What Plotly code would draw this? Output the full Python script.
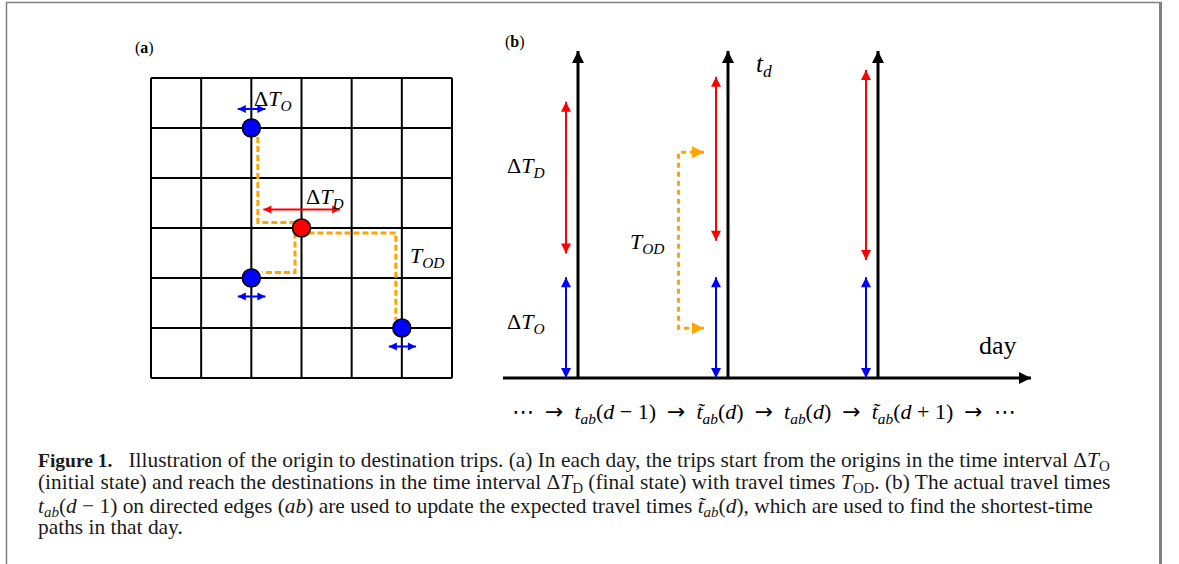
import plotly.graph_objects as go

W, H = 1179, 564

# ---- panel (a): 6x6 street grid, origins / destination / trips ----
grid_ticks = [0, 1, 2, 3, 4, 5, 6]
origin_x = [2, 2, 5]
origin_y = [5, 2, 1]
dest_x = [3]
dest_y = [3]

trip1_x = [2.13, 2.13, 2.90]
trip1_y = [4.82, 3.11, 3.11]
trip2_x = [2.87, 2.87, 2.22]
trip2_y = [2.91, 2.11, 2.11]
trip3_x = [3.14, 4.88, 4.88]
trip3_y = [2.90, 2.90, 1.16]

dto_a_left = [1.73, 1.73, 4.74]
dto_a_right = [2.28, 2.28, 5.28]
dto_a_y = [5.38, 1.63, 0.63]
dtd_a_left = [2.24]
dtd_a_right = [3.77]
dtd_a_y = [3.37]

# ---- panel (b): time within day vs. day ----
days = [1, 2, 3]
t_top = 10
day_axis = [0.5, 4.02]
dtd_lo = [3.81, 4.20, 3.61]
dtd_hi = [8.45, 9.21, 9.42]
dto_lo = [0, 0, 0]
dto_hi = [3.08, 3.08, 3.08]
tod_x = [1.84, 1.67, 1.67, 1.84]
tod_y = [6.90, 6.90, 1.52, 1.52]

SERIF = "Liberation Serif"
BLUE, RED, ORANGE = "#0000ff", "#ff0000", "#ffa500"


def domain(p_lo, p_hi, lo, hi, rng, size, flip=False):
    # pixel position of the two range ends -> axis domain
    f = lambda v: p_lo + (v - lo) * (p_hi - p_lo) / (hi - lo)
    a, b = f(rng[0]), f(rng[1])
    if flip:
        return [1 - a / size, 1 - b / size]
    return [a / size, b / size]


fig = go.Figure()


def line(x, y, color, width, ax, dash="solid"):
    fig.add_trace(go.Scatter(x=x, y=y, mode="lines", xaxis="x" + ax, yaxis="y" + ax,
                             line=dict(color=color, width=width, dash=dash),
                             hoverinfo="skip"))


def heads(x, y, symbol, color, size, ax):
    fig.add_trace(go.Scatter(x=x, y=y, mode="markers", xaxis="x" + ax, yaxis="y" + ax,
                             marker=dict(symbol=symbol, color=color, size=size),
                             hoverinfo="skip", cliponaxis=False))


# grid
gx, gy = [], []
for g in grid_ticks:
    gx += [g, g, None, grid_ticks[0], grid_ticks[-1], None]
    gy += [grid_ticks[0], grid_ticks[-1], None, g, g, None]
line(gx, gy, "black", 2, "")

# trips
for tx, ty in [(trip1_x, trip1_y), (trip2_x, trip2_y), (trip3_x, trip3_y)]:
    line(tx, ty, ORANGE, 3, "", dash="6px,3px")

# time windows in (a)
for x0, x1, y in zip(dto_a_left, dto_a_right, dto_a_y):
    line([x0, x1], [y, y], BLUE, 2, "")
heads(dto_a_right, dto_a_y, "arrow-right", BLUE, 8, "")
heads(dto_a_left, dto_a_y, "arrow-left", BLUE, 8, "")
for x0, x1, y in zip(dtd_a_left, dtd_a_right, dtd_a_y):
    line([x0, x1], [y, y], RED, 2, "")
heads(dtd_a_right, dtd_a_y, "arrow-right", RED, 8, "")
heads(dtd_a_left, dtd_a_y, "arrow-left", RED, 8, "")

fig.add_trace(go.Scatter(x=origin_x, y=origin_y, mode="markers", hoverinfo="skip",
                         marker=dict(size=18, color=BLUE, line=dict(color="black", width=1.5)),
                         cliponaxis=False))
fig.add_trace(go.Scatter(x=dest_x, y=dest_y, mode="markers", hoverinfo="skip",
                         marker=dict(size=18, color=RED, line=dict(color="black", width=1.5)),
                         cliponaxis=False))

# panel (b) axes
line(day_axis, [0, 0], "black", 3, "2")
heads([day_axis[1]], [0], "arrow-right", "black", 12, "2")
for d in days:
    line([d, d], [0, t_top], "black", 3, "2")
heads(days, [t_top] * len(days), "arrow-up", "black", 12, "2")

off = -0.08
wx = [d + off for d in days]
for x, lo, hi in zip(wx, dtd_lo, dtd_hi):
    line([x, x], [lo, hi], RED, 2, "2")
heads(wx, dtd_hi, "arrow-up", RED, 10, "2")
heads(wx, dtd_lo, "arrow-down", RED, 10, "2")
for x, lo, hi in zip(wx, dto_lo, dto_hi):
    line([x, x], [lo, hi], BLUE, 2, "2")
heads(wx, dto_hi, "arrow-up", BLUE, 10, "2")
heads(wx, dto_lo, "arrow-down", BLUE, 10, "2")

line(tod_x, tod_y, ORANGE, 3, "2", dash="5px,4px")
heads([tod_x[0], tod_x[-1]], [tod_y[0], tod_y[-1]], "arrow-right", ORANGE, 12, "2")

# axes placement
ra = [-0.7, 6.7]
rbx = [0.35, 4.25]
rby = [-1.6, 11]
hidden = dict(visible=False, showgrid=False, zeroline=False, fixedrange=True)
fig.update_layout(
    xaxis=dict(range=ra, domain=domain(151, 452, 0, 6, ra, W), **hidden),
    yaxis=dict(range=ra, domain=domain(378, 78, 0, 6, ra, H, flip=True), **hidden),
    xaxis2=dict(range=rbx, domain=domain(578, 878, 1, 3, rbx, W), anchor="y2", **hidden),
    yaxis2=dict(range=rby, domain=domain(378, 51, 0, 10, rby, H, flip=True), anchor="x2", **hidden),
)

lab = dict(size=22, family=SERIF, color="black")
arr = "\u2002<span style='font-family:DejaVu Sans'>→</span>\u2002"
dots = "<span style='font-family:DejaVu Sans'>⋯</span>"
ann = [
    dict(x=2.43, y=5.56, xref="x", yref="y", text="Δ<i>T</i><sub><i>O</i></sub>"),
    dict(x=3.47, y=3.6, xref="x", yref="y", text="Δ<i>T</i><sub><i>D</i></sub>"),
    dict(x=5.51, y=2.42, xref="x", yref="y", text="<i>T</i><sub><i>OD</i></sub>"),
    dict(x=0.65, y=6.46, xref="x2", yref="y2", text="Δ<i>T</i><sub><i>D</i></sub>"),
    dict(x=0.65, y=1.68, xref="x2", yref="y2", text="Δ<i>T</i><sub><i>O</i></sub>"),
    dict(x=1.46, y=4.13, xref="x2", yref="y2", text="<i>T</i><sub><i>OD</i></sub>"),
    dict(x=2.24, y=9.55, xref="x2", yref="y2", text="<i>t</i><sub><i>d</i></sub>",
         font=dict(size=25, family=SERIF, color="black")),
    dict(x=3.8, y=1.0, xref="x2", yref="y2", text="day", font=dict(size=26, family=SERIF, color="black")),
    dict(x=2.24, y=-1.07, xref="x2", yref="y2",
         text=dots + arr + "<i>t</i><sub><i>ab</i></sub>(<i>d</i> − 1)" + arr
              + "<i>t̃</i><sub><i>ab</i></sub>(<i>d</i>)" + arr + "<i>t</i><sub><i>ab</i></sub>(<i>d</i>)"
              + arr + "<i>t̃</i><sub><i>ab</i></sub>(<i>d</i> + 1)" + arr + dots,
         font=dict(size=22, family=SERIF, color="black")),
]
for a in ann:
    a.setdefault("font", lab)
    a.update(showarrow=False, xanchor="center", yanchor="middle")

pan = dict(size=16, family=SERIF, color="black")
ann += [
    dict(x=144 / W, y=1 - 48 / H, xref="paper", yref="paper", text="(<b>a</b>)", showarrow=False,
         xanchor="center", yanchor="middle", font=pan),
    dict(x=515 / W, y=1 - 42 / H, xref="paper", yref="paper", text="(<b>b</b>)", showarrow=False,
         xanchor="center", yanchor="middle", font=pan),
]

caption = [
    "<span style='font-size:19.5px'><b>Figure 1.</b></span>\u2002 Illustration of the origin to destination trips. "
    "(a) In each day, the trips start from the origins in the time interval Δ<i>T</i><sub>O</sub>",
    "(initial state) and reach the destinations in the time interval Δ<i>T</i><sub>D</sub> (final state) "
    "with travel times <i>T</i><sub>OD</sub>. (b) The actual travel times",
    "<i>t</i><sub><i>ab</i></sub>(<i>d</i> − 1) on directed edges (<i>ab</i>) are used to update the expected "
    "travel times <i>t̃</i><sub><i>ab</i></sub>(<i>d</i>), which are used to find the shortest-time",
    "paths in that day.",
]
cap_top = [445.5, 468, 491.5, 513]
for txt, py in zip(caption, cap_top):
    ann.append(dict(x=36 / W, y=1 - py / H, xref="paper", yref="paper", xanchor="left", yanchor="top",
                    text=txt, showarrow=False, font=dict(size=21.4, family=SERIF, color="#1a1a1a")))

fig.update_layout(
    annotations=ann,
    shapes=[
        dict(type="line", xref="paper", yref="paper", x0=6.5 / W, x1=6.5 / W, y0=0, y1=1 - 2.5 / H,
             line=dict(color="#808080", width=1.5)),
        dict(type="line", xref="paper", yref="paper", x0=6 / W, x1=1161 / W, y0=1 - 2.5 / H, y1=1 - 2.5 / H,
             line=dict(color="#808080", width=1.5)),
        dict(type="line", xref="paper", yref="paper", x0=1160.5 / W, x1=1160.5 / W, y0=0, y1=1 - 2 / H,
             line=dict(color="#808080", width=3)),
    ],
    width=W,
    height=H,
    margin=dict(l=0, r=0, t=0, b=0),
    paper_bgcolor="white",
    plot_bgcolor="white",
    showlegend=False,
)

fig.write_html("out.html", config={"displayModeBar": False},
               post_script="document.body.style.margin='0';")
